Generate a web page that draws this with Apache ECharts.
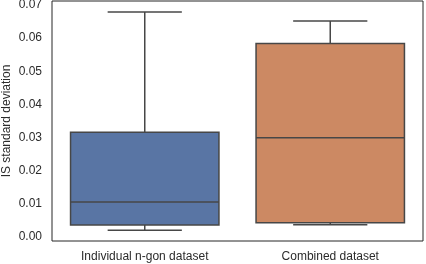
<!DOCTYPE html>
<html><head><meta charset="utf-8">
<script src="https://cdn.jsdelivr.net/npm/echarts@6/dist/echarts.min.js"></script>
<style>html,body{margin:0;padding:0;background:#fff}#c{width:426px;height:264px}</style>
</head><body><div id="c"></div>
<script>
const categories = ['Individual n-gon dataset', 'Combined dataset'];
const whiskerLow = [0.00187, 0.00355];
const q1 = [0.00346, 0.00416];
const medians = [0.0104, 0.0299];
const q3 = [0.0315, 0.0584];
const whiskerHigh = [0.0679, 0.0652];
const yTicks = [0, 0.01, 0.02, 0.03, 0.04, 0.05, 0.06, 0.07];
const boxColors = ['#5975a4', '#cc8963'];

const data = categories.map((c, i) => [i, whiskerLow[i], q1[i], medians[i], q3[i], whiskerHigh[i]]);
const lineColor = '#474747';
const txt = '#2b2b2b';

const chart = echarts.init(document.getElementById('c'), null, {renderer: 'canvas'});
chart.setOption({
  animation: false,
  grid: {left: 52, right: 3, top: 1, bottom: 23, show: true, borderColor: '#262626', borderWidth: 1,
    backgroundColor: 'transparent', containLabel: false, outerBoundsMode: 'none'},
  xAxis: {
    type: 'category', data: categories,
    axisLine: {show: false}, axisTick: {show: false},
    axisLabel: {color: txt, fontFamily: 'Liberation Sans', fontSize: 12, margin: 10}
  },
  yAxis: {
    type: 'value', min: -0.00136, max: 0.07124,
    name: 'IS standard deviation', nameLocation: 'middle', nameGap: 39, nameMoveOverlap: false,
    nameTextStyle: {color: txt, fontFamily: 'Liberation Sans', fontSize: 12},
    axisLine: {show: false}, splitLine: {show: false},
    axisTick: {show: false, customValues: yTicks},
    axisLabel: {customValues: yTicks, color: txt, fontFamily: 'Liberation Sans', fontSize: 12, margin: 10,
      formatter: v => v.toFixed(2)}
  },
  series: [{
    type: 'custom',
    data: data,
    encode: {x: 0, y: [1, 2, 3, 4, 5]},
    renderItem: function (params, api) {
      const i = api.value(0);
      const bw = api.size([1, 0])[0] * 0.8;
      const cw = bw / 2;
      const x = api.coord([i, 0])[0];
      const yLo = api.coord([i, api.value(1)])[1];
      const yQ1 = api.coord([i, api.value(2)])[1];
      const yMed = api.coord([i, api.value(3)])[1];
      const yQ3 = api.coord([i, api.value(4)])[1];
      const yHi = api.coord([i, api.value(5)])[1];
      const ls = {stroke: lineColor, lineWidth: 1.5};
      return {
        type: 'group',
        children: [
          {type: 'line', shape: {x1: x, y1: yQ3, x2: x, y2: yHi}, style: ls},
          {type: 'line', shape: {x1: x, y1: yQ1, x2: x, y2: yLo}, style: ls},
          {type: 'line', shape: {x1: x - cw / 2, y1: yHi, x2: x + cw / 2, y2: yHi}, style: ls},
          {type: 'line', shape: {x1: x - cw / 2, y1: yLo, x2: x + cw / 2, y2: yLo}, style: ls},
          {type: 'rect', shape: {x: x - bw / 2, y: yQ3, width: bw, height: yQ1 - yQ3},
            style: {fill: boxColors[i], stroke: lineColor, lineWidth: 1.5}},
          {type: 'line', shape: {x1: x - bw / 2, y1: yMed, x2: x + bw / 2, y2: yMed}, style: ls}
        ]
      };
    }
  }]
});
</script></body></html>
